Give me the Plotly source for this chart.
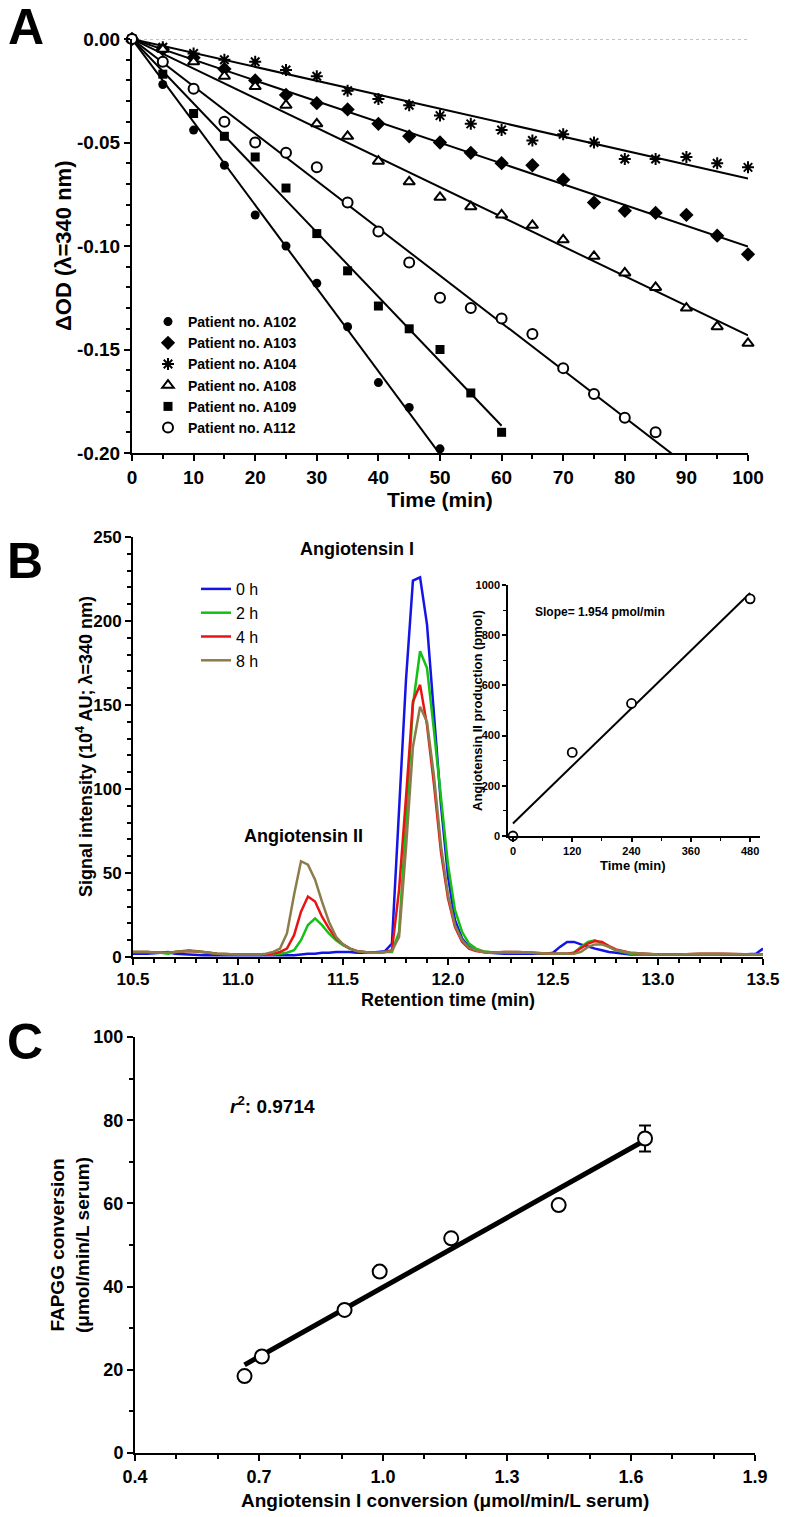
import numpy as np
import plotly.graph_objects as go

W, H = 788, 1517
FONT = "Liberation Sans, Arial, Helvetica, sans-serif"

# ---------------- Panel A data ----------------
patient_names = ["Patient no. A102", "Patient no. A103", "Patient no. A104",
                 "Patient no. A108", "Patient no. A109", "Patient no. A112"]
time_a = [0, 5, 10, 15, 20, 25, 30, 35, 40, 45, 50, 55, 60, 65, 70, 75, 80, 85, 90, 95, 100]
od_a102 = [0, -0.022, -0.044, -0.061, -0.085, -0.100, -0.118, -0.139, -0.166, -0.178, -0.198]
od_a103 = [0, -0.005, -0.009, -0.0145, -0.020, -0.027, -0.031, -0.034, -0.041, -0.047, -0.050,
           -0.055, -0.060, -0.061, -0.068, -0.079, -0.083, -0.084, -0.085, -0.095, -0.104]
od_a104 = [0, -0.004, -0.007, -0.010, -0.011, -0.015, -0.018, -0.025, -0.029, -0.032, -0.037,
           -0.041, -0.044, -0.049, -0.046, -0.050, -0.058, -0.058, -0.057, -0.060, -0.062]
od_a108 = [0, -0.005, -0.011, -0.018, -0.023, -0.032, -0.041, -0.047, -0.059, -0.069, -0.0765,
           -0.081, -0.085, -0.090, -0.097, -0.105, -0.113, -0.120, -0.130, -0.139, -0.147]
od_a109 = [0, -0.017, -0.036, -0.047, -0.057, -0.072, -0.094, -0.112, -0.129, -0.140, -0.150,
           -0.171, -0.190]
od_a112 = [0, -0.011, -0.024, -0.040, -0.050, -0.055, -0.062, -0.079, -0.093, -0.108, -0.125,
           -0.130, -0.135, -0.1425, -0.159, -0.1715, -0.183, -0.190]
fit_end_a = [50, 100, 100, 100, 60, 90]
a_yticks = [0, -0.05, -0.10, -0.15, -0.20]
a_yticktext = ["0.00", "-0.05", "-0.10", "-0.15", "-0.20"]

# ---------------- Panel B data ----------------
hours = ["0 h", "2 h", "4 h", "8 h"]
retention = [10.50, 10.567, 10.633, 10.667, 10.70, 10.767, 10.833, 10.90, 11.00, 11.10,
             11.133, 11.167, 11.20, 11.233, 11.267, 11.30, 11.333, 11.367, 11.40, 11.433,
             11.467, 11.50, 11.533, 11.567, 11.60, 11.633, 11.667, 11.70, 11.733, 11.767,
             11.80, 11.833, 11.867, 11.90, 11.933, 11.967, 12.00, 12.033, 12.067, 12.10,
             12.133, 12.167, 12.20, 12.267, 12.333, 12.40, 12.467, 12.50, 12.533, 12.567,
             12.60, 12.633, 12.667, 12.70, 12.733, 12.767, 12.80, 12.867, 12.933, 13.00,
             13.10, 13.20, 13.30, 13.40, 13.467, 13.50]
sig_0h = [2, 2, 2.5, 3, 2, 1.5, 1, 1, 1, 1,
          1, 1, 1, 1, 1, 1.5, 2, 2, 2.5, 2.5,
          3, 3, 3, 2.5, 2.5, 2.5, 3, 3.5, 8, 85,
          165, 224, 226, 198, 145, 90, 48, 22, 11, 6,
          4, 3, 2.5, 2, 2, 2, 2, 2.5, 6, 9,
          9, 7.5, 6, 5, 4, 3, 2.5, 1.5, 1.5, 1.5,
          1.5, 1.5, 1.5, 1.5, 2, 5]
sig_2h = [3, 3, 2.5, 2, 3, 4, 3, 2, 1.5, 1.5,
          1.5, 1.5, 2, 2.5, 4, 10, 19, 23, 19, 14,
          10, 7, 5, 3.5, 3, 2.5, 2.5, 3, 3, 15,
          80, 150, 182, 172, 135, 95, 55, 28, 15, 8,
          5, 3.5, 3, 2.5, 2.5, 2.5, 2, 2, 2, 2,
          2.5, 6, 9, 10, 8, 6, 4, 2, 1.5, 1.5,
          1.5, 1.5, 1.5, 1.5, 1.5, 1.5]
sig_4h = [3, 3, 2.5, 2.5, 3, 3.5, 3, 2, 1.5, 1.5,
          1.5, 2, 3, 5, 13, 27, 36, 33, 24, 17,
          11, 7.5, 5, 3.5, 3, 2.5, 2.5, 3, 4, 40,
          95, 152, 162, 138, 103, 62, 35, 18, 9, 5,
          3.5, 3, 2.5, 3, 3, 2.5, 2, 2, 2, 2,
          2.5, 5, 8, 9.5, 9, 6.5, 4.5, 2.5, 2, 1.5,
          1.5, 2, 2, 1.5, 1.5, 1.5]
sig_8h = [3, 3, 2.5, 2.5, 3, 3.5, 3, 2, 1.5, 1.5,
          2, 3, 5, 14, 37, 57, 55, 46, 33, 21,
          12, 7.5, 5, 3.5, 3, 2.5, 2.5, 3, 3.5, 12,
          65, 125, 149, 140, 108, 66, 37, 19, 10, 5.5,
          4, 3, 2.5, 3, 3, 2.5, 2, 2, 2, 2,
          2, 3, 6, 7.5, 7.5, 6, 4, 2.5, 2, 1.5,
          1.5, 2, 2, 1.5, 1.5, 1.5]
hour_colors = ["#1414e6", "#14c014", "#e81414", "#8c7c4c"]

# Inset data
inset_time = [0, 120, 240, 480]
inset_ang2 = [0, 333, 528, 945]

# ---------------- Panel C data ----------------
c_ang1 = [0.665, 0.707, 0.907, 0.992, 1.165, 1.425, 1.634]
c_fapgg = [18.5, 23.2, 34.4, 43.6, 51.6, 59.6, 75.6]
c_err = [0, 0, 0, 0, 0, 0, 3.1]


def px(p):
    return p / W


def py(p):
    return 1 - p / H


fig = go.Figure()

# ---- Panel A ----
series_a = [od_a102, od_a103, od_a104, od_a108, od_a109, od_a112]
symbols_a = ["circle", "diamond", "asterisk-open", "triangle-up", "square", "circle"]
sizes_a = [9, 11, 10, 10, 9, 10]
fills_a = ["black", "black", "black", "white", "black", "white"]

fig.add_trace(go.Scatter(x=[time_a[0], time_a[-1]], y=[0, 0], mode="lines",
                         line=dict(color="#888888", width=1, dash="dot"),
                         xaxis="x", yaxis="y", showlegend=False, hoverinfo="skip"))
for vals, xend in zip(series_a, fit_end_a):
    t = np.array(time_a[:len(vals)], dtype=float)
    v = np.array(vals, dtype=float)
    slope = float(np.sum(t * v) / np.sum(t * t))
    fig.add_trace(go.Scatter(x=[0, xend], y=[0, slope * xend], mode="lines",
                             line=dict(color="black", width=2),
                             xaxis="x", yaxis="y", showlegend=False, hoverinfo="skip"))
for name, vals, sym, sz, fc in zip(patient_names, series_a, symbols_a, sizes_a, fills_a):
    fig.add_trace(go.Scatter(
        x=time_a[:len(vals)], y=vals, mode="markers", name=name,
        marker=dict(symbol=sym, size=sz, color=fc,
                    line=dict(color="black", width=2 if fc == "white" or sym.startswith("asterisk") else 0)),
        xaxis="x", yaxis="y", cliponaxis=False, legend="legend"))

# ---- Panel B ----
for name, vals, col in zip(hours, [sig_0h, sig_2h, sig_4h, sig_8h], hour_colors):
    fig.add_trace(go.Scatter(x=retention, y=vals, mode="lines", name=name,
                             line=dict(color=col, width=2.5),
                             xaxis="x2", yaxis="y2", legend="legend2"))

# Inset
it = np.array(inset_time, dtype=float)
ia = np.array(inset_ang2, dtype=float)
k, b = np.polyfit(it, ia, 1)
fig.add_trace(go.Scatter(x=[it.min(), it.max()], y=[b + k * it.min(), b + k * it.max()],
                         mode="lines", line=dict(color="black", width=2),
                         xaxis="x3", yaxis="y3", showlegend=False, hoverinfo="skip"))
fig.add_trace(go.Scatter(x=inset_time, y=inset_ang2, mode="markers",
                         marker=dict(symbol="circle", size=9, color="white",
                                     line=dict(color="black", width=1.8)),
                         xaxis="x3", yaxis="y3", showlegend=False, cliponaxis=False))

# ---- Panel C ----
cx = np.array(c_ang1)
cy = np.array(c_fapgg)
kc, bc = np.polyfit(cx, cy, 1)
fig.add_trace(go.Scatter(x=[cx.min(), cx.max()], y=[bc + kc * cx.min(), bc + kc * cx.max()],
                         mode="lines", line=dict(color="black", width=5),
                         xaxis="x4", yaxis="y4", showlegend=False, hoverinfo="skip"))
fig.add_trace(go.Scatter(x=c_ang1, y=c_fapgg, mode="markers",
                         error_y=dict(type="data", array=c_err, visible=True,
                                      color="black", thickness=2, width=6),
                         marker=dict(symbol="circle", size=14, color="white",
                                     line=dict(color="black", width=2)),
                         xaxis="x4", yaxis="y4", showlegend=False, cliponaxis=False))


def ax(size, lw=2, tl=6, **kw):
    d = dict(showline=True, linecolor="black", linewidth=lw, ticks="outside",
             ticklen=tl, tickwidth=lw, tickcolor="black", showgrid=False,
             zeroline=False, mirror=False, automargin=False,
             tickfont=dict(family=FONT, size=size, color="black", weight="bold"))
    d.update(kw)
    return d


def minor(dt, tl=4, lw=1.5):
    return dict(dtick=dt, ticks="outside", ticklen=tl, tickwidth=lw,
                tickcolor="black", showgrid=False)


layout = dict(
    width=W, height=H, autosize=False,
    margin=dict(l=0, r=0, t=0, b=0, pad=0, autoexpand=False),
    paper_bgcolor="white", plot_bgcolor="rgba(0,0,0,0)",
    font=dict(family=FONT, color="black"),
    xaxis=ax(19, domain=[px(132), px(748)], range=[0, 100], dtick=10, tick0=0,
             minor=minor(5), anchor="y"),
    yaxis=ax(19, domain=[py(453), py(39)], range=[-0.20, 0.0], tickmode="array",
             tickvals=a_yticks, ticktext=a_yticktext, minor=minor(0.01), anchor="x"),
    xaxis2=ax(17, domain=[px(133), px(763)], range=[10.5, 13.5], dtick=0.5, tick0=10.5,
              tickformat=".1f", minor=minor(0.1), anchor="y2"),
    yaxis2=ax(17, domain=[py(957), py(537)], range=[0, 250], dtick=50,
              minor=minor(10), anchor="x2"),
    xaxis3=ax(11, lw=1.5, tl=4, domain=[px(508), px(760)], range=[-10, 500], dtick=120,
              tick0=0, minor=minor(60, 3, 1), anchor="y3"),
    yaxis3=ax(11, lw=1.5, tl=4, domain=[py(836), py(585)], range=[0, 1000], dtick=200,
              minor=minor(100, 3, 1), anchor="x3"),
    xaxis4=ax(18, domain=[px(135), px(755)], range=[0.4, 1.9], dtick=0.3, tick0=0.4,
              tickformat=".1f", minor=minor(0.1), anchor="y4"),
    yaxis4=ax(18, domain=[py(1453), py(1037)], range=[0, 100], dtick=20,
              minor=minor(10), anchor="x4"),
    legend=dict(x=px(148), y=py(306), xanchor="left", yanchor="top",
                font=dict(family=FONT, size=14, color="black", weight="bold"),
                bgcolor="rgba(0,0,0,0)", itemwidth=30, tracegroupgap=0),
    legend2=dict(x=px(196), y=py(572), xanchor="left", yanchor="top",
                 font=dict(family=FONT, size=16, color="black"),
                 bgcolor="rgba(0,0,0,0)", itemwidth=30, tracegroupgap=0),
)
fig.update_layout(**layout)


def note(text, x, y, size, bold=True, angle=0, xanchor="center", yanchor="middle"):
    fig.add_annotation(text=text, x=px(x), y=py(y), xref="paper", yref="paper",
                       showarrow=False, textangle=angle, xanchor=xanchor, yanchor=yanchor,
                       font=dict(family=FONT, size=size, color="black",
                                 weight="bold" if bold else "normal"))


note("A", 6, 27, 50, xanchor="left")
note("B", 5, 561, 50, xanchor="left")
note("C", 5, 1042, 50, xanchor="left")
note("ΔOD (λ=340 nm)", 63, 246, 22, angle=-90)
note("Time (min)", 440, 500, 21)
note("Signal intensity (10<sup>4</sup> AU; λ=340 nm)", 84, 747, 18, angle=-90)
note("Retention time (min)", 448, 1000, 18)
note("Angiotensin I", 357, 549, 18)
note("Angiotensin II", 303, 836, 18)
note("Angiotensin II production (pmol)", 477, 710, 13, angle=-90)
note("Time (min)", 633, 865, 13)
note("Slope= 1.954 pmol/min", 533, 612, 12, xanchor="left")
note("FAPGG conversion<br>(μmol/min/L serum)", 70, 1245, 19, angle=-90)
note("Angiotensin I conversion (μmol/min/L serum)", 445, 1500, 19)
note("<i>r</i><sup>2</sup>: 0.9714", 228, 1105, 19, xanchor="left")

fig.write_html("out.html", config={"displayModeBar": False},
               post_script="document.body.style.margin='0';")
